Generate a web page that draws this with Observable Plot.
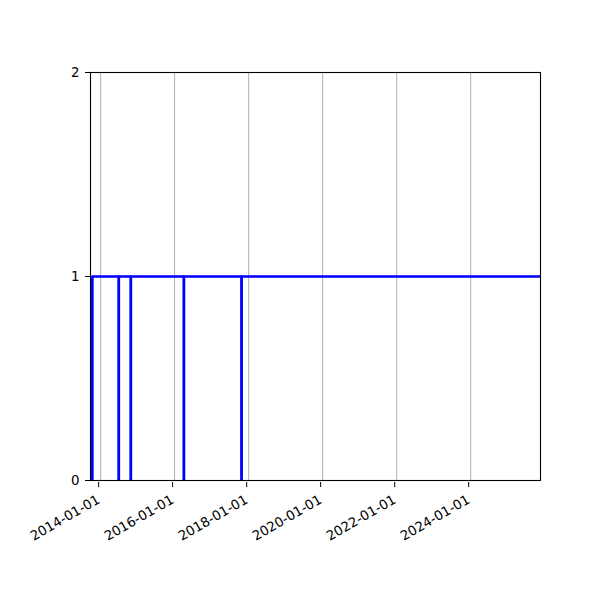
<!DOCTYPE html>
<html>
<head>
<meta charset="utf-8">
<script src="https://cdn.jsdelivr.net/npm/d3@7"></script>
<script src="https://cdn.jsdelivr.net/npm/@observablehq/plot@0.6"></script>
<style>
  html, body { margin: 0; padding: 0; background: #fff; }
  #chart svg { display: block; }
</style>
</head>
<body>
<div id="chart"></div>
<script>
// Step series: 1 = on, 0 = drop (single-day dips)
const dates = [
  "2013-10-10", "2013-10-11",
  "2014-06-28", "2014-06-29",
  "2014-10-25", "2014-10-26",
  "2016-04-01", "2016-04-02",
  "2017-10-22", "2017-10-23",
  "2026-06-30"
];
const values = [0, 1, 0, 1, 0, 1, 0, 1, 0, 1, 1];
const xTickLabels = ["2014-01-01", "2016-01-01", "2018-01-01", "2020-01-01", "2022-01-01", "2024-01-01"];
const yTicks = [0, 1, 2];
const xLimits = ["2013-09-23", "2025-11-20"];

const parse = d3.utcParse("%Y-%m-%d");
const fmt = d3.utcFormat("%Y-%m-%d");
const data = dates.map((d, i) => ({date: parse(d), value: values[i]}));
const xTicks = xTickLabels.map(parse);

const font = "DejaVu Sans, sans-serif";

const chart = Plot.plot({
  width: 600,
  height: 600,
  marginLeft: 90,
  marginRight: 60,
  marginTop: 72,
  marginBottom: 120,
  style: {fontFamily: font, fontSize: "13.33px", color: "black", background: "white"},
  x: {type: "utc", domain: xLimits.map(parse)},
  y: {domain: [0, 2]},
  marks: [
    Plot.gridX(xTicks, {stroke: "#b0b0b0", strokeOpacity: 1, strokeWidth: 1}),
    Plot.line(data, {x: "date", y: "value", curve: "step-after", stroke: "blue", strokeWidth: 2.7, clip: true}),
    Plot.frame({stroke: "black", strokeWidth: 1.1}),
    Plot.axisY(yTicks, {tickSize: 5, tickPadding: 6, tickFormat: d => String(d), label: null, fontSize: 13.33}),
    Plot.axisX(xTicks, {tickSize: 5, tickPadding: 11, dx: -2, dy: 2, tickRotate: -30, tickFormat: fmt, label: null, fontSize: 13.33})
  ]
});
document.getElementById("chart").appendChild(chart);
</script>
</body>
</html>
